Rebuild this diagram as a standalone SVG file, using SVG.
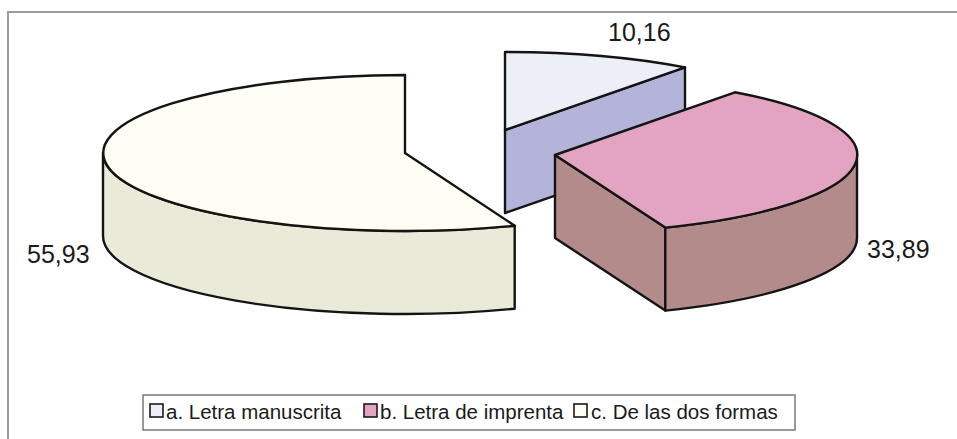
<svg xmlns="http://www.w3.org/2000/svg" width="957" height="439" viewBox="0 0 957 439">
<style>
  .edge { stroke: #141414; stroke-width: 2.4; stroke-linejoin: round; }
  .lbl { font-family: "Liberation Sans", Arial, sans-serif; font-size: 25px; fill: #1a1a1a; }
  .leg { font-family: "Liberation Sans", Arial, sans-serif; font-size: 20.5px; fill: #1a1a1a; }
  .sw { stroke: #1a1a1a; stroke-width: 1.6; }
  .aTop { fill: #eceff6; }
  .aSide { fill: #b4b4da; }
  .bTop { fill: #e3a4c1; }
  .bSide { fill: #b38b8b; }
  .cTop { fill: #fefef5; }
  .cSide { fill: #e9ead8; }
</style>
<rect x="0" y="0" width="957" height="439" fill="#ffffff"/>
<g id="frame" fill="none" stroke="#9c9c9c" stroke-width="2">
  <path d="M8,439 L8,12 L957,12"/>
</g>
<g id="connectors"/>
<g id="slice-a">
  <path class="aSide edge" d="M505,130 L685,67.4 L685,150.4 L505,213 Z"/>
  <path class="aTop edge" d="M505,130 L505,52 A302,78 0 0,1 685,67.4 Z"/>
</g>
<g id="slice-b">
  <path class="bSide edge" d="M555,155 L665.3,227.6 L665.3,310.6 L555,238 Z"/>
  <path class="bSide edge" d="M665.3,227.6 A302,78 0 0,0 857,155 L857,238 A302,78 0 0,1 665.3,310.6 Z"/>
  <path class="bTop edge" d="M555,155 L735,92.3 A302,78 0 0,1 665.3,227.6 Z"/>
</g>
<g id="slice-c">
  <path class="cSide edge" d="M103,153 A302,78 0 0,0 514.7,225.7 L514.7,308.7 A302,78 0 0,1 103,236 Z"/>
  <path class="cTop edge" d="M405,153 L405,75 A302,78 0 1,0 514.7,225.7 Z"/>
</g>
<g id="labels">
  <text class="lbl" x="608" y="41">10,16</text>
  <text class="lbl" x="867" y="258">33,89</text>
  <text class="lbl" x="27" y="263">55,93</text>
</g>
<g id="legend">
  <rect x="143" y="395" width="652" height="35" fill="#ffffff" stroke="#7a7a7a" stroke-width="1.5"/>
  <rect class="sw aTop" x="150" y="404" width="13" height="13"/>
  <text class="leg" x="166" y="418.5">a. Letra manuscrita</text>
  <rect class="sw bTop" x="364" y="404" width="13" height="13"/>
  <text class="leg" x="380" y="418.5">b. Letra de imprenta</text>
  <rect class="sw cTop" x="574" y="404" width="13" height="13"/>
  <text class="leg" x="591" y="418.5">c. De las dos formas</text>
</g>
</svg>
